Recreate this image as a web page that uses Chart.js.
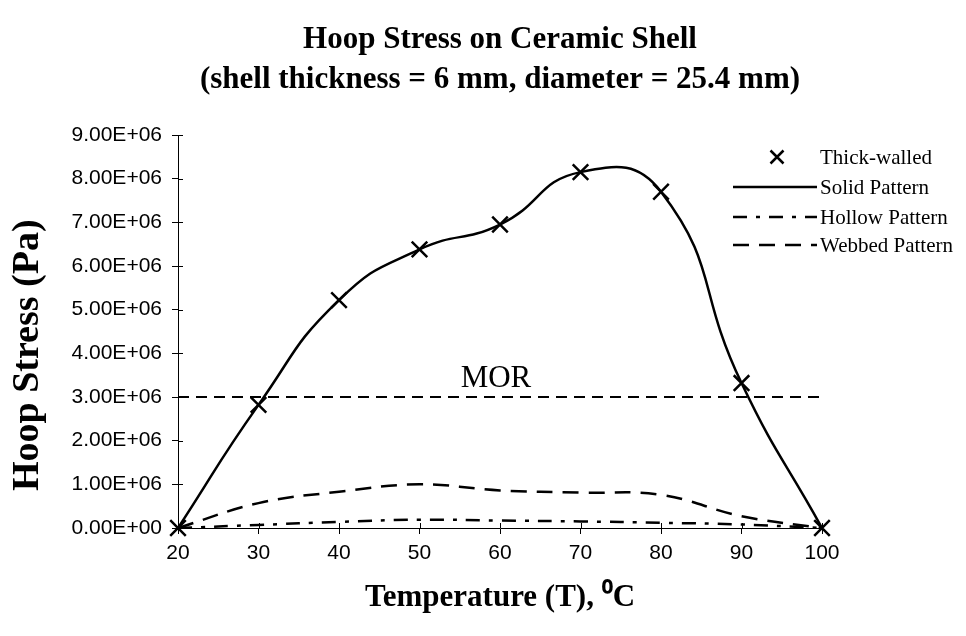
<!DOCTYPE html>
<html>
<head>
<meta charset="utf-8">
<script src="https://cdn.jsdelivr.net/npm/chart.js@4/dist/chart.umd.min.js"></script>
<style>
  html, body { margin: 0; padding: 0; background: #fff; }
  #wrap { width: 966px; height: 636px; }
</style>
</head>
<body>
<div id="wrap"><canvas id="c" width="966" height="636"></canvas></div>
<script>
// ---- data ----
const temperatures = [20, 30, 40, 50, 60, 70, 80, 90, 100];
const thickWalled = [0, 2.82e6, 5.22e6, 6.38e6, 6.95e6, 8.15e6, 7.70e6, 3.32e6, 0];
const solidPattern = [0, 2.82e6, 5.22e6, 6.38e6, 6.95e6, 8.15e6, 7.70e6, 3.32e6, 0];
const hollowPattern = [0, 0.07e6, 0.14e6, 0.19e6, 0.17e6, 0.15e6, 0.12e6, 0.08e6, 0];
const webbedPattern = [0, 0.57e6, 0.83e6, 1.0e6, 0.86e6, 0.81e6, 0.76e6, 0.27e6, 0];
const morValue = 3.0e6;
const morRange = [20, 100];
const morLabelAt = 59.5;
const seriesNames = ['Thick-walled', 'Solid Pattern', 'Hollow Pattern', 'Webbed Pattern'];
const titleLines = ['Hoop Stress on Ceramic Shell', '(shell thickness = 6 mm, diameter = 25.4 mm)'];
const xTitle = 'Temperature (T), \u2070C';
const yTitle = 'Hoop Stress (Pa)';

const pts = (xs, ys) => xs.map((x, i) => ({x: x, y: ys[i]}));

function sci(v) {
  if (v === 0) return '0.00E+00';
  const e = Math.floor(Math.log10(Math.abs(v)) + 1e-9);
  const m = v / Math.pow(10, e);
  return m.toFixed(2) + 'E' + (e >= 0 ? '+' : '-') + String(Math.abs(e)).padStart(2, '0');
}

const SERIF = '"Liberation Serif", "Times New Roman", serif';
const SANS = '"Liberation Sans", Arial, sans-serif';

const extrasPlugin = {
  id: 'extras',
  afterDraw(chart) {
    const ctx = chart.ctx;
    const ds = chart.data.datasets;
    const xs = chart.scales.x, ys = chart.scales.y;
    const area = chart.chartArea;
    ctx.save();
    // inner halves of the axis ticks (ticks cross the axis)
    ctx.strokeStyle = '#000';
    ctx.lineWidth = 1;
    ctx.beginPath();
    xs.ticks.forEach(t => {
      const px = Math.round(xs.getPixelForValue(t.value)) + 0.5;
      ctx.moveTo(px, area.bottom); ctx.lineTo(px, area.bottom - 5);
    });
    ys.ticks.forEach(t => {
      const py = Math.round(ys.getPixelForValue(t.value)) + 0.5;
      ctx.moveTo(area.left, py); ctx.lineTo(area.left + 5, py);
    });
    ctx.stroke();

    // legend
    const rows = [157, 187, 217, 245];
    const x0 = 733, x1 = 817, tx = 820;
    ctx.font = '21px ' + SERIF;
    ctx.fillStyle = '#000';
    ctx.textBaseline = 'middle';
    ctx.textAlign = 'left';
    for (let i = 0; i < 4; i++) {
      const d = ds[i];
      const y = rows[i];
      ctx.strokeStyle = '#000';
      if (i === 0) {
        ctx.lineWidth = 2.5;
        ctx.beginPath();
        const r = 6.5;
        ctx.moveTo(777 - r, y - r); ctx.lineTo(777 + r, y + r);
        ctx.moveTo(777 - r, y + r); ctx.lineTo(777 + r, y - r);
        ctx.stroke();
      } else {
        ctx.lineWidth = d.borderWidth;
        ctx.setLineDash(d.borderDash || []);
        ctx.beginPath();
        ctx.moveTo(x0, y); ctx.lineTo(x1, y);
        ctx.stroke();
        ctx.setLineDash([]);
      }
      ctx.fillText(d.label, tx, y + 1);
    }
    // MOR label
    ctx.font = '31px ' + SERIF;
    ctx.textAlign = 'center';
    ctx.textBaseline = 'alphabetic';
    ctx.fillText('MOR', xs.getPixelForValue(morLabelAt), ys.getPixelForValue(morValue) - 10);
    ctx.restore();
  }
};

const chart = new Chart(document.getElementById('c'), {
  type: 'line',
  data: {
    datasets: [
      {
        label: seriesNames[0], data: pts(temperatures, thickWalled), showLine: false,
        borderColor: '#000', backgroundColor: '#000', pointStyle: 'crossRot',
        pointRadius: 11, pointBorderWidth: 2.5, pointBorderColor: '#000', order: 0, clip: false
      },
      {
        label: seriesNames[1], data: pts(temperatures, solidPattern), borderColor: '#000',
        borderWidth: 2.5, pointRadius: 0, tension: 0.5, fill: false, order: 1
      },
      {
        label: seriesNames[2], data: pts(temperatures, hollowPattern), borderColor: '#000',
        borderWidth: 2.5, borderDash: [14, 9, 4, 9], pointRadius: 0, tension: 0.4, fill: false, order: 2
      },
      {
        label: seriesNames[3], data: pts(temperatures, webbedPattern), borderColor: '#000',
        borderWidth: 2.5, borderDash: [16, 10], pointRadius: 0, tension: 0.4, fill: false, order: 3
      },
      {
        label: 'MOR', data: pts(morRange, [morValue, morValue]), borderColor: '#000',
        borderWidth: 2, borderDash: [11, 7], pointRadius: 0, tension: 0, fill: false, order: 4
      }
    ]
  },
  options: {
    responsive: false,
    animation: false,
    devicePixelRatio: 1,
    layout: { padding: { top: 0, left: 0, right: 144, bottom: 19 } },
    plugins: {
      legend: { display: false },
      tooltip: { enabled: false },
      title: {
        display: true, fullSize: false, text: titleLines, color: '#000',
        font: { family: SERIF, size: 31, weight: 'bold', lineHeight: 1.3 },
        padding: { top: 20, bottom: 34.4 }
      }
    },
    scales: {
      x: {
        type: 'linear', min: 20, max: 100,
        afterFit(s) { s.height = 636 - 528 - 19; },
        ticks: { stepSize: 10, color: '#000', font: { family: SANS, size: 21 }, padding: 7 },
        grid: { drawOnChartArea: false, drawTicks: true, tickLength: 6, color: '#000', lineWidth: 1 },
        border: { display: true, color: '#000', width: 1 },
        title: {
          display: true, text: xTitle, color: '#000',
          font: { family: SERIF, size: 31, weight: 'bold', lineHeight: 1.2 }, padding: { top: 0, bottom: 0 }
        }
      },
      y: {
        type: 'linear', min: 0, max: 9e6,
        afterFit(s) { s.width = 178; },
        ticks: { stepSize: 1e6, color: '#000', font: { family: SANS, size: 21 }, padding: 10,
          callback: (v) => sci(v) },
        grid: { drawOnChartArea: false, drawTicks: true, tickLength: 6, color: '#000', lineWidth: 1 },
        border: { display: true, color: '#000', width: 1 },
        title: {
          display: true, text: yTitle + '     ', color: '#000',
          font: { family: SERIF, size: 38, weight: 'bold', lineHeight: 1.0 }, padding: { top: 9, bottom: 0 }
        }
      }
    }
  },
  plugins: [extrasPlugin]
});
</script>
</body>
</html>
